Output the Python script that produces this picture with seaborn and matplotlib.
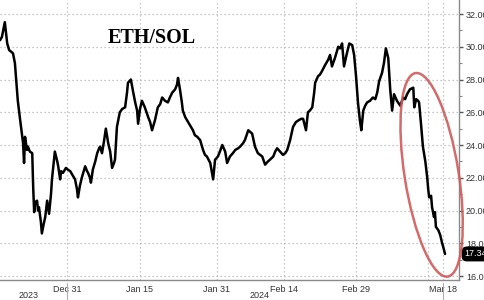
import numpy as np
import pandas as pd
import matplotlib
matplotlib.use("Agg")
import matplotlib.pyplot as plt
import matplotlib.dates as mdates
import matplotlib.ticker as mticker
import matplotlib.transforms as mtransforms
from matplotlib.patches import Ellipse
import seaborn as sns

# ---------------- data ----------------
start_date = "2023-12-17"
# days elapsed since start_date for each observation
day_offsets = [
    0.0, 0.4, 0.6, 1.0, 1.5, 1.9, 2.3, 2.7, 3.1, 3.5, 3.7, 4.2, 4.6, 4.8, 5.0, 5.2, 5.6, 5.8,
    6.2, 6.7, 6.9, 7.1, 7.3, 7.7, 7.9, 8.1, 8.5, 8.7, 9.1, 9.4, 9.8, 10.2, 10.6, 10.8, 11.2,
    11.4, 11.9, 12.1, 12.5, 12.7, 13.1, 13.7, 14.1, 14.6, 15.0, 15.6, 16.0, 16.2, 16.6, 17.0,
    17.5, 17.7, 18.1, 18.3, 18.7, 18.9, 19.3, 19.8, 20.2, 20.6, 20.8, 21.2, 21.6, 22.0, 22.5,
    22.9, 23.3, 23.7, 23.9, 24.3, 24.5, 24.9, 25.4, 26.0, 26.4, 26.6, 27.2, 27.7, 28.1, 28.5,
    28.7, 29.1, 29.5, 30.1, 30.8, 31.2, 31.6, 32.2, 32.8, 33.3, 33.7, 34.3, 34.9, 35.3, 35.8,
    36.4, 36.8, 37.0, 37.4, 37.8, 38.0, 38.5, 38.9, 39.5, 40.1, 40.5, 41.0, 41.6, 42.2, 42.6,
    43.0, 43.7, 44.3, 44.7, 45.3, 45.7, 46.2, 46.8, 47.2, 47.8, 48.4, 48.9, 49.5, 49.9, 50.5,
    50.9, 51.6, 52.0, 52.4, 53.0, 53.6, 54.5, 55.1, 55.7, 56.1, 56.8, 57.2, 57.6, 58.2, 58.8,
    59.3, 59.7, 60.3, 60.9, 61.5, 62.0, 62.6, 63.0, 63.6, 64.0, 64.4, 64.9, 65.3, 65.5, 66.1,
    66.5, 66.9, 67.6, 68.2, 68.6, 69.0, 69.6, 70.3, 70.7, 71.1, 71.5, 72.1, 72.6, 73.2, 73.6,
    74.0, 74.4, 74.8, 75.1, 75.5, 75.9, 76.3, 76.9, 77.5, 78.0, 78.4, 78.8, 79.4, 79.8, 80.2,
    80.7, 81.1, 81.5, 81.9, 82.5, 83.2, 83.8, 84.2, 84.6, 85.2, 85.9, 86.1, 86.5, 86.9, 87.1,
    87.5, 87.9, 88.4, 88.8, 89.0, 89.2, 89.6, 89.8, 90.2, 90.4, 90.6, 91.1, 91.5, 91.9, 92.1,
    92.5,
]
eth_sol = [
    30.4, 30.6, 30.9, 31.5, 30.2, 29.8, 29.7, 29.6, 29.0, 27.5, 26.7, 25.5, 24.6, 24.1, 22.9, 24.5, 23.7, 23.9,
    23.6, 23.5, 21.4, 19.9, 20.5, 20.6, 20.0, 20.2, 19.3, 18.6, 19.2, 19.6, 20.6, 19.8, 21.0, 21.9, 23.0,
    23.6, 23.0, 22.7, 21.9, 22.4, 22.3, 22.6, 22.5, 22.4, 22.2, 21.9, 21.3, 20.8, 21.5, 22.0,
    22.5, 22.7, 22.4, 22.3, 22.0, 21.7, 22.5, 23.0, 23.5, 23.8, 23.9, 23.5, 24.2, 25.0, 24.1,
    23.6, 22.6, 22.9, 23.1, 25.1, 25.4, 26.0, 26.2, 26.3, 27.2, 27.8, 28.0, 27.2, 26.6, 26.1,
    25.3, 26.2, 26.7, 26.3, 25.7, 25.4, 24.9, 25.5, 26.3, 26.5, 26.9, 26.7, 26.6, 26.9, 27.2,
    27.4, 27.7, 28.1, 27.4, 26.6, 26.1, 25.7, 25.5, 25.2, 24.9, 24.6, 24.5, 24.3, 23.7, 23.4,
    23.3, 22.9, 21.9, 23.1, 23.3, 23.6, 24.0, 23.6, 22.9, 23.3, 23.5, 23.7, 23.8, 23.9, 24.1,
    24.3, 24.9, 24.8, 24.7, 23.9, 23.5, 23.3, 22.8, 23.0, 23.1, 23.3, 23.6, 23.8, 23.6, 23.4,
    23.5, 23.7, 24.3, 25.1, 25.4, 25.5, 25.6, 25.6, 24.9, 26.0, 26.1, 26.3, 27.2, 27.8, 28.2,
    28.3, 28.5, 28.9, 29.2, 29.5, 28.8, 29.3, 30.0, 29.9, 30.2, 28.8, 29.6, 30.2, 30.1, 29.5,
    28.2, 26.6, 25.5, 24.9, 26.1, 26.4, 26.6, 26.7, 26.9, 26.8, 27.2, 27.9, 28.4, 29.0, 29.9,
    29.3, 27.4, 26.1, 27.1, 26.7, 26.4, 26.9, 26.8, 27.1, 27.4, 27.5, 26.3, 26.8, 26.7, 26.6,
    25.3, 23.9, 23.0, 22.0, 21.3, 20.8, 20.9, 20.2, 19.6, 19.9, 19.0, 18.8, 18.5, 18.0, 17.8,
    17.346,
]
chart_title = "ETH/SOL"
last_value_label = "17.346"
xtick_dates = ["2023-12-31", "2024-01-15", "2024-01-31", "2024-02-14", "2024-02-29", "2024-03-18"]
xtick_labels = ["Dec 31", "Jan 15", "Jan 31", "Feb 14", "Feb 29", "Mar 18"]
minor_xtick_dates = ["2023-12-23", "2024-01-07", "2024-01-23", "2024-02-07", "2024-02-22",
                     "2024-03-08", "2024-03-15"]
extra_grid_dates = ["2024-03-15"]
year_labels = ["2023", "2024"]
year_label_dates = ["2023-12-23", "2024-02-09"]
year_separator_dates = ["2023-12-31", "2024-03-18"]
ytick_values = [16, 18, 20, 22, 24, 26, 28, 30, 32]
y_limits = (15.756, 32.855)
x_limit_days = (0.0, 95.4)

# ---------------- figure ----------------
sns.set_theme(style="white")
plt.rcParams["font.family"] = ["Liberation Sans", "DejaVu Sans"]

W, H, DPI = 485, 300, 100
fig = plt.figure(figsize=(W / DPI, H / DPI), dpi=DPI)
fig.patch.set_facecolor("white")
ax = fig.add_axes([0.0, 20 / H, 459 / W, 280 / H])
ax.set_facecolor("white")

t0 = pd.Timestamp(start_date)
df = pd.DataFrame({
    "date": t0 + pd.to_timedelta(day_offsets, unit="D"),
    "value": eth_sol,
})
sns.lineplot(data=df, x="date", y="value", ax=ax, color="black", lw=1.8,
             estimator=None, sort=False)

ax.set_xlim(t0 + pd.Timedelta(days=x_limit_days[0]), t0 + pd.Timedelta(days=x_limit_days[1]))
ax.set_ylim(*y_limits)
ax.set_xlabel("")
ax.set_ylabel("")

# spines
for s in ["left", "top"]:
    ax.spines[s].set_visible(False)
for s in ["right", "bottom"]:
    ax.spines[s].set_color("#8a8a8a")
    ax.spines[s].set_linewidth(1.0)

# y axis on the right
ax.yaxis.tick_right()
ax.set_yticks(ytick_values)
ax.yaxis.set_major_formatter(mticker.FormatStrFormatter("%.3f"))
ax.yaxis.set_minor_locator(mticker.MultipleLocator(1))
ax.tick_params(axis="y", which="major", direction="out", length=3, width=1.0,
               color="#555555", labelsize=6.5, labelcolor="#333333", pad=2)
ax.tick_params(axis="y", which="minor", direction="out", length=2, width=0.8,
               color="#888888")

# x axis
major_dates = pd.to_datetime(xtick_dates)
ax.set_xticks(major_dates)
ax.set_xticklabels(xtick_labels)
ax.set_xticks(pd.to_datetime(minor_xtick_dates), minor=True)
ax.tick_params(axis="x", which="major", direction="out", length=2.5, width=0.8,
               color="#777777", labelsize=6.5, labelcolor="#333333", pad=1)
ax.tick_params(axis="x", which="minor", direction="out", length=2.5, width=0.8,
               color="#777777")

# grid
grid_kw = dict(color="#b5b5b5", lw=0.9, ls=(0, (1, 2.2)), zorder=0)
for v in ytick_values:
    ax.axhline(v, **grid_kw)
for d in list(major_dates) + list(pd.to_datetime(extra_grid_dates)):
    ax.axvline(d, **grid_kw)

# year labels and separators below the axis
blend = mtransforms.blended_transform_factory(ax.transData, ax.transAxes)
for lab, d in zip(year_labels, year_label_dates):
    ax.text(pd.Timestamp(d), -15 / 280, lab, transform=blend, ha="center", va="center",
            fontsize=6.5, color="#333333")
for d in year_separator_dates:
    ax.plot([pd.Timestamp(d)] * 2, [-3 / 280, -20 / 280], transform=blend,
            color="#b0b0b0", lw=0.8, clip_on=False)

# last value tag
blend_y = mtransforms.blended_transform_factory(ax.transAxes, ax.transData)
ax.annotate(last_value_label, xy=(1.0, eth_sol[-1]), xycoords=blend_y,
            xytext=(4, 0), textcoords="offset points", ha="left", va="center",
            fontsize=6.5, color="white", annotation_clip=False,
            bbox=dict(boxstyle="round,pad=0.25,rounding_size=0.5", fc="black", ec="black"))

# title
fig.text(108 / W, 1 - 38 / H, chart_title, fontfamily="Liberation Serif",
         fontweight="bold", fontsize=14.5, color="black", ha="left", va="center")

# red ellipse around the final crash (placed from the data of the last leg)
crash_days = np.array(day_offsets[-30:])
crash_vals = np.array(eth_sol[-30:])
mid_date = t0 + pd.Timedelta(days=float((crash_days.min() + crash_days.max()) / 2))
mid_val = float((crash_vals.max() + crash_vals.min()) / 2)
cx, cy = ax.transData.transform((mdates.date2num(mid_date), mid_val))
ell = Ellipse((cx + 14, cy - 4), width=54, height=206, angle=9,
              transform=mtransforms.IdentityTransform(), fill=False,
              ec="#d05a5a", lw=1.8, alpha=0.9, clip_on=False, zorder=5)
fig.add_artist(ell)

fig.savefig("out.png", dpi=DPI, facecolor="white")
